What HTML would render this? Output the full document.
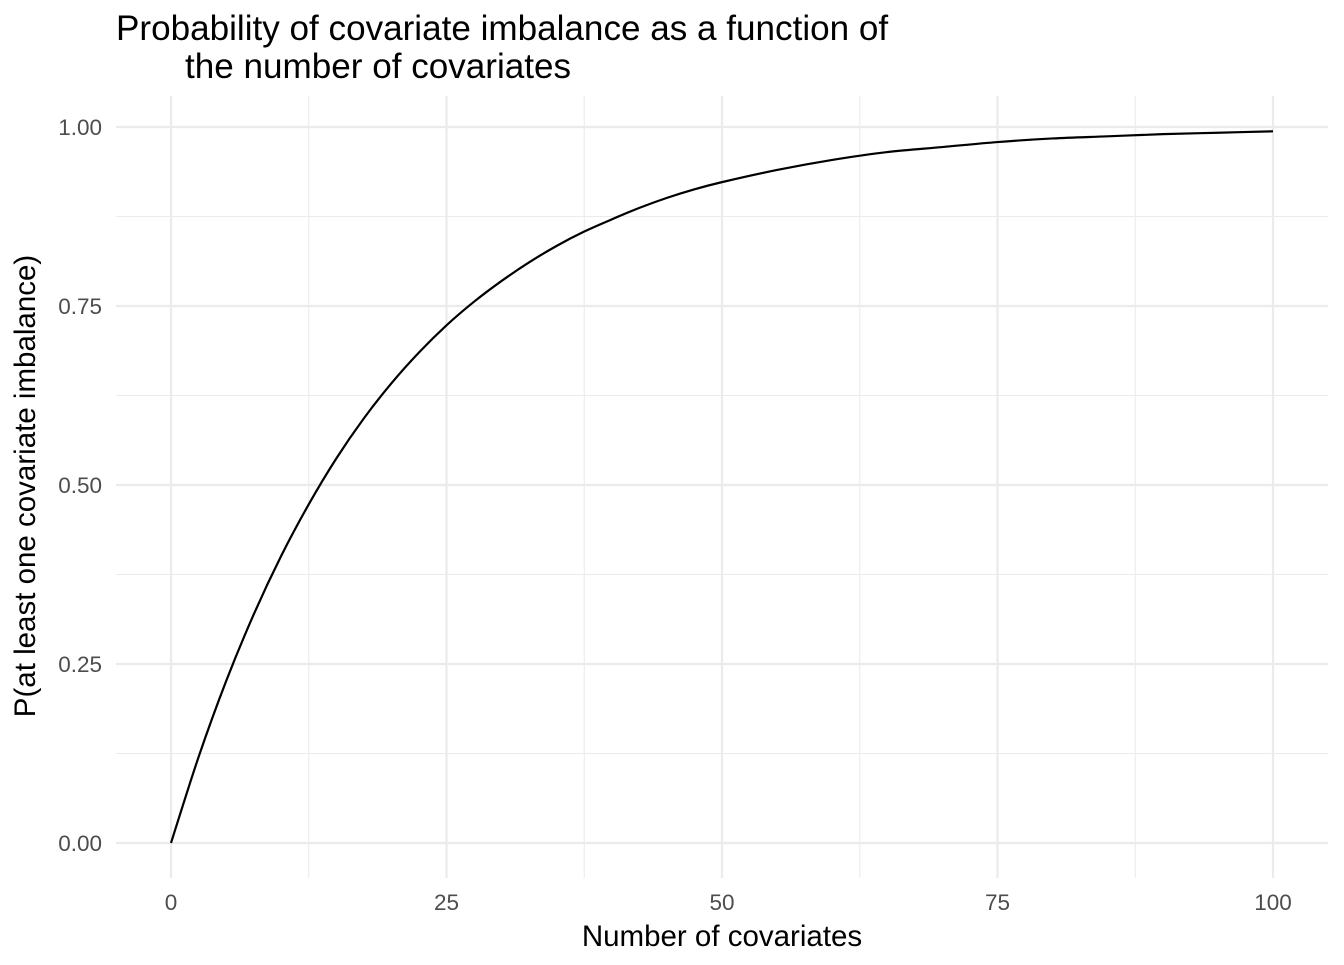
<!DOCTYPE html>
<html><head><meta charset="utf-8"><style>
body{margin:0;background:#fff;}
svg text{font-family:"Liberation Sans",sans-serif;}
</style></head><body>
<svg id="chart" width="1344" height="960" xmlns="http://www.w3.org/2000/svg">
<text x="116" y="40" font-size="35.1" fill="#000">Probability of covariate imbalance as a function of</text>
<text x="185" y="78" font-size="35.1" fill="#000">the number of covariates</text>
<g id="grid"></g>
<g id="ticks"></g>
<path id="curve" fill="none" stroke="#000" stroke-width="2.2"/>
<text x="722" y="946" font-size="29.5" text-anchor="middle" fill="#000">Number of covariates</text>
<text transform="translate(35,486) rotate(-90)" font-size="29.5" text-anchor="middle" fill="#000">P(at least one covariate imbalance)</text>
</svg>
<script>
const xValues=[0,2.5,5,7.5,10,12.5,15,17.5,20,22.5,25,27.5,30,32.5,35,37.5,40,42.5,45,47.5,50,55,60,65,70,75,80,85,90,95,100];
const yValues=[0,0.120,0.226,0.319,0.401,0.473,0.537,0.593,0.642,0.685,0.723,0.756,0.785,0.811,0.834,0.854,0.871,0.887,0.901,0.913,0.923,0.940,0.954,0.965,0.972,0.979,0.984,0.987,0.990,0.992,0.994];
const xTicks=[0,25,50,75,100];
const xTickLabels=["0","25","50","75","100"];
const yTicks=[0,0.25,0.5,0.75,1];
const yTickLabels=["0.00","0.25","0.50","0.75","1.00"];
const xMinor=[12.5,37.5,62.5,87.5];
const yMinor=[0.125,0.375,0.625,0.875];
const X=v=>171+v*(1273-171)/100;
const Y=v=>843-v*(843-127);
const L=116,R=1328,T=96,B=878;
const ns="http://www.w3.org/2000/svg";
const grid=document.getElementById('grid'),ticks=document.getElementById('ticks');
function line(x1,y1,x2,y2,w,name){const l=document.createElementNS(ns,'line');
l.setAttribute('x1',x1);l.setAttribute('y1',y1);l.setAttribute('x2',x2);l.setAttribute('y2',y2);
l.setAttribute('stroke','#ebebeb');l.setAttribute('stroke-width',w);


grid.appendChild(l);}
xMinor.forEach(v=>line(X(v),T,X(v),B,1.1,'x-minor-gridline'));
yMinor.forEach(v=>line(L,Y(v),R,Y(v),1.1,'y-minor-gridline'));
xTicks.forEach(v=>line(X(v),T,X(v),B,2.2,'x-major-gridline'));
yTicks.forEach(v=>line(L,Y(v),R,Y(v),2.2,'y-major-gridline'));
function txt(x,y,s,anchor,name){const t=document.createElementNS(ns,'text');
t.setAttribute('x',x);t.setAttribute('y',y);t.setAttribute('font-size','22.5');t.setAttribute('fill','#4d4d4d');
t.setAttribute('text-anchor',anchor);t.textContent=s;


ticks.appendChild(t);}
xTicks.forEach((v,i)=>txt(X(v),910,xTickLabels[i],'middle','x-tick-label'));
yTicks.forEach((v,i)=>txt(102,Y(v)+8,yTickLabels[i],'end','y-tick-label'));
const pts=xValues.map((x,i)=>[X(x),Y(yValues[i])]);
let d='M'+pts[0][0]+','+pts[0][1];
for(let i=0;i<pts.length-1;i++){const p0=pts[Math.max(0,i-1)],p1=pts[i],p2=pts[i+1],p3=pts[Math.min(pts.length-1,i+2)];
const c1=[p1[0]+(p2[0]-p0[0])/6,p1[1]+(p2[1]-p0[1])/6],c2=[p2[0]-(p3[0]-p1[0])/6,p2[1]-(p3[1]-p1[1])/6];
d+=' C'+c1+' '+c2+' '+p2;}
document.getElementById('curve').setAttribute('d',d);
</script>
</body></html>
